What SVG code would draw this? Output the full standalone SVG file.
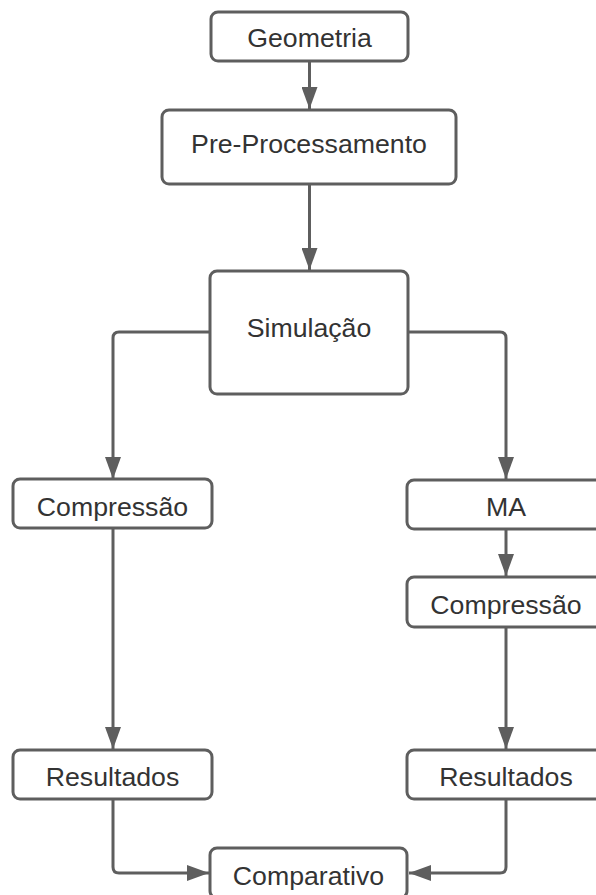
<svg xmlns="http://www.w3.org/2000/svg" width="596" height="895" viewBox="0 0 596 895">
  <style>
    .box { fill: #ffffff; stroke: #5e5e5e; stroke-width: 3; }
    .lbl { font-family: "Liberation Sans", Arial, sans-serif; font-size: 26.7px; fill: #333333; text-anchor: middle; }
    .conn { fill: none; stroke: #5e5e5e; stroke-width: 3; marker-end: url(#arrow); }
  </style>
  <defs>
    <marker id="arrow" viewBox="0 0 22 16" refX="22" refY="8" markerWidth="22" markerHeight="16" markerUnits="userSpaceOnUse" orient="auto">
      <path d="M0,0 L22,8 L0,16 Z" fill="#5e5e5e"/>
    </marker>
  </defs>
  <rect width="596" height="895" fill="#ffffff"/>
  <g id="connectors">
    <path class="conn" d="M309.5,61 L309.5,109"/>
    <path class="conn" d="M309.5,184 L309.5,270"/>
    <path class="conn" d="M210,332 L119,332 Q113,332 113,338 L113,479"/>
    <path class="conn" d="M408,332 L500,332 Q506,332 506,338 L506,479"/>
    <path class="conn" d="M506,529 L506,576"/>
    <path class="conn" d="M113,528 L113,749"/>
    <path class="conn" d="M506,627 L506,749"/>
    <path class="conn" d="M113,799 L113,867 Q113,873 119,873 L209,873"/>
    <path class="conn" d="M506,799 L506,867 Q506,873 500,873 L409,873"/>
  </g>
  <g id="geometria">
    <rect class="box" x="211" y="12" width="197" height="49" rx="7"/>
    <text class="lbl" x="309.5" y="47">Geometria</text>
  </g>
  <g id="pre-processamento">
    <rect class="box" x="162" y="110" width="294" height="74" rx="7"/>
    <text class="lbl" x="309" y="153">Pre-Processamento</text>
  </g>
  <g id="simulacao">
    <rect class="box" x="210" y="271" width="198" height="123" rx="7"/>
    <text class="lbl" x="309" y="337">Simulação</text>
  </g>
  <g id="compressao-left">
    <rect class="box" x="13" y="479" width="199" height="49" rx="7"/>
    <text class="lbl" x="112.5" y="516">Compressão</text>
  </g>
  <g id="ma">
    <rect class="box" x="407" y="480" width="199" height="49" rx="7"/>
    <text class="lbl" x="506" y="516">MA</text>
  </g>
  <g id="compressao-right">
    <rect class="box" x="407" y="577" width="199" height="50" rx="7"/>
    <text class="lbl" x="506" y="614">Compressão</text>
  </g>
  <g id="resultados-left">
    <rect class="box" x="13" y="750" width="199" height="49" rx="7"/>
    <text class="lbl" x="112.5" y="786">Resultados</text>
  </g>
  <g id="resultados-right">
    <rect class="box" x="407" y="750" width="199" height="49" rx="7"/>
    <text class="lbl" x="506" y="786">Resultados</text>
  </g>
  <g id="comparativo">
    <rect class="box" x="210" y="848" width="197" height="50" rx="7"/>
    <text class="lbl" x="308.5" y="885">Comparativo</text>
  </g>
</svg>
